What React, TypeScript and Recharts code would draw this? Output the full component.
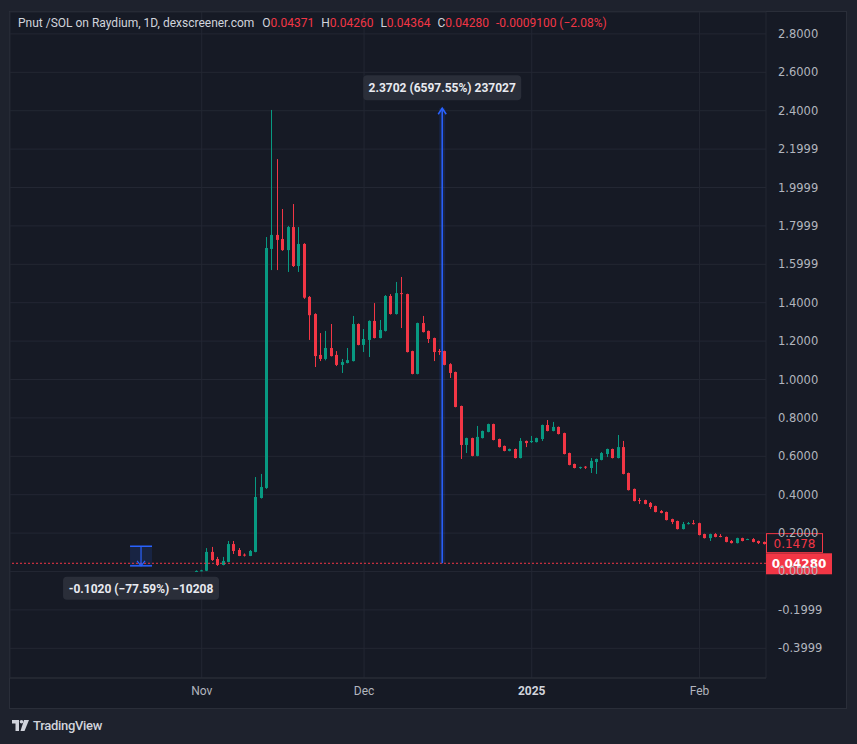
import React from 'react';
import {
  ComposedChart,
  Bar,
  XAxis,
  YAxis,
  CartesianGrid,
  ReferenceLine,
  ReferenceArea,
  ReferenceDot,
} from 'recharts';

// days are counted from Nov 1 (0); first candle is Oct 31
const firstDay = -1;

const opens = [
  0.0, 0.002, 0.004, 0.102, 0.065, 0.034, 0.05, 0.143, 0.112, 0.088, 0.081, 0.102, 0.383, 0.435,
  1.68, 1.753, 1.732, 1.674, 1.794, 1.591, 1.706, 1.43, 1.341, 1.128, 1.107, 1.164, 1.128, 1.076,
  1.086, 1.096, 1.289, 1.18, 1.206, 1.305, 1.216, 1.253, 1.435, 1.341, 1.45, 1.445, 1.148, 1.029,
  1.294, 1.253, 1.216, 1.148, 1.148, 1.08, 1.039, 0.862, 0.659, 0.695, 0.602, 0.695, 0.727, 0.768,
  0.69, 0.654, 0.628, 0.638, 0.591, 0.68, 0.674, 0.674, 0.69, 0.763, 0.732, 0.753, 0.721, 0.617,
  0.56, 0.539, 0.546, 0.539, 0.57, 0.581, 0.612, 0.638, 0.591, 0.648, 0.513, 0.43, 0.372, 0.372,
  0.357, 0.341, 0.315, 0.31, 0.273, 0.263, 0.221, 0.247, 0.252, 0.252, 0.195, 0.174, 0.195, 0.185,
  0.18, 0.159, 0.148, 0.174, 0.166, 0.169, 0.159, 0.154,
];
const highs = [
  0.006, 0.009, 0.122, 0.128, 0.076, 0.076, 0.159, 0.159, 0.122, 0.094, 0.112, 0.492, 0.508, 1.742,
  2.404, 2.148, 1.888, 1.8, 1.914, 1.794, 1.71, 1.435, 1.345, 1.242, 1.253, 1.289, 1.148, 1.107,
  1.164, 1.331, 1.292, 1.263, 1.308, 1.398, 1.31, 1.44, 1.445, 1.508, 1.534, 1.447, 1.15, 1.296,
  1.331, 1.255, 1.218, 1.159, 1.15, 1.085, 1.041, 0.864, 0.697, 0.697, 0.758, 0.734, 0.77, 0.77,
  0.692, 0.656, 0.64, 0.64, 0.695, 0.682, 0.706, 0.697, 0.765, 0.789, 0.779, 0.755, 0.723, 0.619,
  0.562, 0.546, 0.549, 0.591, 0.588, 0.622, 0.64, 0.64, 0.711, 0.68, 0.515, 0.432, 0.383, 0.374,
  0.362, 0.343, 0.32, 0.312, 0.275, 0.265, 0.258, 0.258, 0.268, 0.254, 0.197, 0.197, 0.2, 0.195,
  0.182, 0.164, 0.176, 0.176, 0.171, 0.174, 0.161, 0.156,
];
const lows = [
  0.0, 0.001, 0.002, 0.055, 0.029, 0.032, 0.048, 0.091, 0.08, 0.078, 0.08, 0.1, 0.38, 0.43,
  1.57, 1.57, 1.67, 1.56, 1.586, 1.56, 1.42, 1.206, 1.065, 1.096, 1.1, 1.12, 1.07, 1.034,
  1.084, 1.094, 1.178, 1.143, 1.117, 1.214, 1.214, 1.25, 1.338, 1.338, 1.268, 1.141, 1.027, 1.027,
  1.245, 1.19, 1.096, 1.128, 1.074, 1.008, 0.855, 0.586, 0.617, 0.6, 0.6, 0.693, 0.725, 0.683,
  0.646, 0.626, 0.626, 0.589, 0.589, 0.648, 0.669, 0.672, 0.68, 0.73, 0.73, 0.714, 0.61, 0.553,
  0.537, 0.534, 0.534, 0.513, 0.508, 0.579, 0.596, 0.589, 0.589, 0.506, 0.422, 0.365, 0.352, 0.35,
  0.326, 0.308, 0.303, 0.266, 0.247, 0.219, 0.219, 0.245, 0.245, 0.188, 0.172, 0.159, 0.178, 0.178,
  0.152, 0.146, 0.146, 0.157, 0.164, 0.152, 0.143, 0.141,
];
const closes = [
  0.003, 0.006, 0.102, 0.06, 0.034, 0.055, 0.143, 0.107, 0.081, 0.084, 0.107, 0.388, 0.44, 1.685,
  1.753, 1.727, 1.674, 1.794, 1.591, 1.706, 1.426, 1.335, 1.122, 1.107, 1.164, 1.122, 1.076, 1.091,
  1.101, 1.289, 1.18, 1.211, 1.305, 1.216, 1.258, 1.435, 1.341, 1.45, 1.445, 1.143, 1.029, 1.294,
  1.247, 1.211, 1.143, 1.143, 1.076, 1.034, 0.857, 0.659, 0.695, 0.602, 0.701, 0.732, 0.768, 0.685,
  0.648, 0.628, 0.638, 0.591, 0.68, 0.669, 0.68, 0.695, 0.763, 0.732, 0.753, 0.716, 0.612, 0.555,
  0.539, 0.544, 0.541, 0.576, 0.586, 0.617, 0.638, 0.591, 0.648, 0.508, 0.424, 0.367, 0.367, 0.352,
  0.336, 0.31, 0.305, 0.268, 0.258, 0.221, 0.247, 0.252, 0.247, 0.19, 0.174, 0.195, 0.18, 0.18,
  0.154, 0.148, 0.174, 0.159, 0.169, 0.154, 0.148, 0.143,
];

const monthTicks = [0, 30, 61, 92];
const monthLabels = ['Nov', 'Dec', '2025', 'Feb'];

const priceTicks = [2.8, 2.6, 2.4, 2.2, 2.0, 1.8, 1.6, 1.4, 1.2, 1.0, 0.8, 0.6, 0.4, 0.2, 0, -0.2, -0.4];
const priceLabels = [
  '2.8000', '2.6000', '2.4000', '2.1999', '1.9999', '1.7999', '1.5999', '1.4000', '1.2000',
  '1.0000', '0.8000', '0.6000', '0.4000', '0.2000', '0.0000', '-0.1999', '-0.3999',
];

const lastPrice = 0.0428;
const lastPriceText = '0.04280';
const prevClose = 0.1478;
const prevCloseText = '0.1478';

// ruler drawings
const rise = { day: 44.45, dayFrom: 43.9, dayTo: 45.0, from: 0.0428, to: 2.413, text: '2.3702 (6597.55%) 237027' };
const drop = { dayFrom: -13.25, dayTo: -9.19, top: 0.1315, bottom: 0.0295, text: '-0.1020 (\u221277.59%) \u221210208' };

const header = {
  title: 'Pnut /SOL on Raydium, 1D, dexscreener.com',
  o: '0.04371',
  h: '0.04260',
  l: '0.04364',
  c: '0.04280',
  change: '-0.0009100 (\u22122.08%)',
};

const xDomain = [-35.44, 104.3];
const yDomain = [-0.5547, 2.9141];

const UP = '#089981';
const DOWN = '#F23645';
const BLUE = '#2962FF';
const PANE = '#161A25';
const OUTER = '#1E222D';
const GRID = '#232733';
const TEXT = '#B2B5BE';

const candles = opens.map((o, i) => ({
  d: firstDay + i,
  open: o,
  high: highs[i],
  low: lows[i],
  close: closes[i],
  range: [lows[i], highs[i]],
}));

const Candle = (props: any) => {
  const { x, y, width, height, payload } = props;
  if (!payload) return null;
  const { open, close, high, low } = payload;
  const color = close >= open ? UP : DOWN;
  const k = high > low ? height / (high - low) : 0;
  const top = y + (high - Math.max(open, close)) * k;
  const bottom = y + (high - Math.min(open, close)) * k;
  const bx = Math.round(x);
  const cx = bx + 1.5;
  return (
    <g>
      <line x1={cx} x2={cx} y1={y} y2={y + height} stroke={color} strokeWidth={1} />
      <rect x={bx} y={top} width={3} height={Math.max(1, bottom - top)} fill={color} />
    </g>
  );
};

const PriceTick = (props: any) => {
  const { x, y, payload } = props;
  const i = priceTicks.indexOf(payload.value);
  return (
    <text x={x + 12} y={y + 4} fill={TEXT} fontSize={11.5} fontFamily="DejaVu Sans" textAnchor="start">
      {i >= 0 ? priceLabels[i] : payload.value}
    </text>
  );
};

const TimeTick = (props: any) => {
  const { x, y, payload } = props;
  const i = monthTicks.indexOf(payload.value);
  const bold = monthLabels[i] === '2025';
  return (
    <text
      x={x}
      y={y + 17}
      fill={bold ? '#D1D4DC' : TEXT}
      fontSize={12}
      fontWeight={bold ? 700 : 400}
      fontFamily="Roboto"
      textAnchor="middle"
    >
      {monthLabels[i]}
    </text>
  );
};

const LastBadge = (props: any) => {
  const { cx, cy } = props;
  return (
    <g>
      <rect x={cx} y={cy - 10} width={66} height={21} fill={DOWN} />
      <text x={cx + 33} y={cy + 4.5} textAnchor="middle" fill="#fff" fontSize={12} fontWeight={700} fontFamily="DejaVu Sans">
        {lastPriceText}
      </text>
    </g>
  );
};

const PrevBadge = (props: any) => {
  const { cx, cy } = props;
  return (
    <g>
      <rect x={cx + 0.5} y={cy - 9.5} width={56} height={19} fill={PANE} stroke={DOWN} strokeWidth={1} />
      <text x={cx + 28.5} y={cy + 4.5} textAnchor="middle" fill={DOWN} fontSize={12} fontFamily="DejaVu Sans">
        {prevCloseText}
      </text>
    </g>
  );
};

const RiseHead = (props: any) => {
  const { cx, cy } = props;
  return (
    <g>
      <path d={`M${cx - 4},${cy + 6} L${cx},${cy} L${cx + 4},${cy + 6}`} stroke={BLUE} strokeWidth={1.5} fill="none" />
      <rect x={cx - 79} y={cy - 33} width={158} height={25} rx={4} fill="#2A2E39" />
      <text x={cx} y={cy - 16} textAnchor="middle" fill="#E8EAF0" fontSize={12} fontWeight={700} fontFamily="Roboto">
        {rise.text}
      </text>
    </g>
  );
};

const DropHead = (props: any) => {
  const { cx, cy } = props;
  return (
    <g>
      <path d={`M${cx - 4},${cy - 5} L${cx},${cy} L${cx + 4},${cy - 5}`} stroke={BLUE} strokeWidth={1.2} fill="none" />
      <rect x={cx - 78} y={cy + 11} width={156} height={23} rx={4} fill="#2A2E39" />
      <text x={cx} y={cy + 27} textAnchor="middle" fill="#E8EAF0" fontSize={12} fontWeight={700} fontFamily="Roboto">
        {drop.text}
      </text>
    </g>
  );
};

const TvLogo = () => (
  <svg width="17" height="11" viewBox="0 0 17 11">
    <path d="M0 0 H7 V11 H3.5 V3.5 H0 Z" fill="#D1D4DC" />
    <circle cx="9.5" cy="1.8" r="1.8" fill="#D1D4DC" />
    <path d="M12 0 H17 L12.5 11 H8.5 Z" fill="#D1D4DC" />
  </svg>
);

export default function App() {
  const dropMid = (drop.dayFrom + drop.dayTo) / 2;
  return (
    <div style={{ position: 'absolute', left: 0, top: 0, width: 857, height: 744, background: OUTER, overflow: 'hidden' }}>
      <div
        style={{
          position: 'absolute',
          left: 10,
          top: 12,
          width: 836,
          height: 696,
          background: PANE,
          outline: '1px solid #2A2E39',
        }}
      />
      <div style={{ position: 'absolute', left: 0, top: 0 }}>
        <ComposedChart width={857} height={744} data={candles} margin={{ top: 12, right: 11, bottom: 36, left: 10 }}>
          <CartesianGrid stroke={GRID} />
          <XAxis
            type="number"
            dataKey="d"
            domain={xDomain}
            allowDataOverflow
            ticks={monthTicks}
            tick={<TimeTick />}
            tickSize={0}
            tickMargin={0}
            tickLine={false}
            axisLine={{ stroke: '#2A2E39' }}
            height={30}
            interval={0}
          />
          <YAxis
            orientation="right"
            domain={yDomain}
            allowDataOverflow
            ticks={priceTicks}
            tick={<PriceTick />}
            tickSize={0}
            tickMargin={0}
            tickLine={false}
            axisLine={false}
            width={80}
            interval={0}
          />
          <ReferenceArea
            x1={rise.dayFrom}
            x2={rise.dayTo}
            y1={rise.from}
            y2={rise.to}
            fill={BLUE}
            fillOpacity={0.14}
            stroke="none"
          />
          <ReferenceArea
            x1={drop.dayFrom}
            x2={drop.dayTo}
            y1={drop.bottom}
            y2={drop.top}
            fill={BLUE}
            fillOpacity={0.14}
            stroke="none"
          />
          <ReferenceLine y={lastPrice} stroke={DOWN} strokeDasharray="2 2" strokeWidth={1} />
          <Bar dataKey="range" barSize={3} shape={<Candle />} isAnimationActive={false} />
          <ReferenceLine
            segment={[{ x: rise.day, y: rise.from }, { x: rise.day, y: rise.to }]}
            stroke={BLUE}
            strokeWidth={1.5}
          />
          <ReferenceLine
            segment={[{ x: drop.dayFrom, y: drop.top }, { x: drop.dayTo, y: drop.top }]}
            stroke={BLUE}
            strokeWidth={1.5}
          />
          <ReferenceLine
            segment={[{ x: drop.dayFrom, y: drop.bottom }, { x: drop.dayTo, y: drop.bottom }]}
            stroke={BLUE}
            strokeWidth={1.5}
          />
          <ReferenceLine
            segment={[{ x: dropMid, y: drop.top }, { x: dropMid, y: drop.bottom }]}
            stroke={BLUE}
            strokeWidth={1.2}
          />
          <ReferenceDot x={rise.day} y={rise.to} shape={<RiseHead />} />
          <ReferenceDot x={dropMid} y={drop.bottom} shape={<DropHead />} />
          <ReferenceDot x={xDomain[1]} y={prevClose} shape={<PrevBadge />} />
          <ReferenceDot x={xDomain[1]} y={lastPrice} shape={<LastBadge />} />
        </ComposedChart>
      </div>
      <div
        style={{
          position: 'absolute',
          left: 18,
          top: 16,
          fontFamily: 'Roboto',
          fontSize: 12,
          color: '#D1D4DC',
          whiteSpace: 'pre',
        }}
      >
        <span>{header.title}</span>
        <span style={{ marginLeft: 8 }}>O</span>
        <span style={{ color: DOWN }}>{header.o}</span>
        <span style={{ marginLeft: 7 }}>H</span>
        <span style={{ color: DOWN }}>{header.h}</span>
        <span style={{ marginLeft: 7 }}>L</span>
        <span style={{ color: DOWN }}>{header.l}</span>
        <span style={{ marginLeft: 7 }}>C</span>
        <span style={{ color: DOWN }}>{header.c}</span>
        <span style={{ marginLeft: 7, color: DOWN }}>{header.change}</span>
      </div>
      <div
        style={{
          position: 'absolute',
          left: 12,
          top: 718,
          display: 'flex',
          alignItems: 'center',
          gap: 4,
          color: '#D1D4DC',
          fontFamily: 'Roboto',
          fontSize: 13,
          fontWeight: 500,
          letterSpacing: -0.3,
        }}
      >
        <TvLogo />
        <span>TradingView</span>
      </div>
    </div>
  );
}
